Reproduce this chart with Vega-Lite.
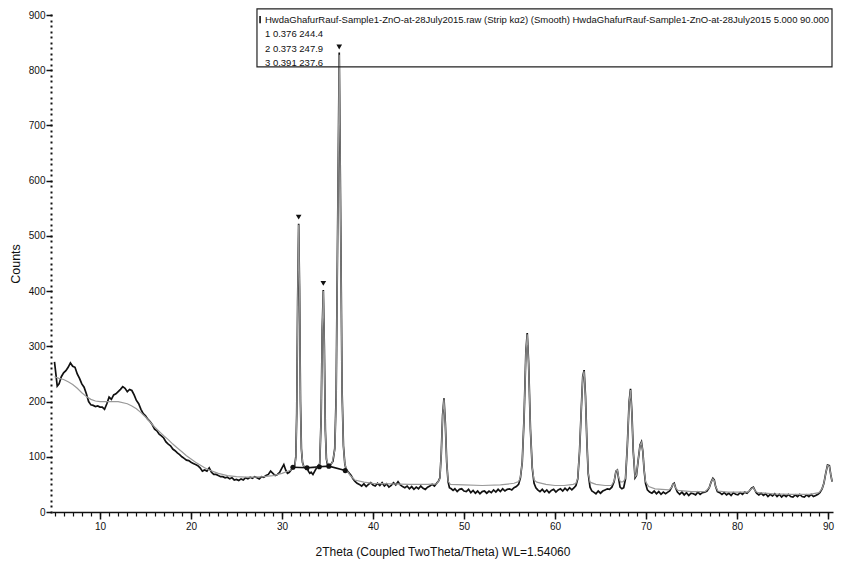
{
"$schema": "https://vega.github.io/schema/vega-lite/v6.json",
"width": 781, "height": 497,
"autosize": {"type": "none"},
"padding": {"left": 52, "top": 15, "right": 14, "bottom": 65},
"background": "white",
"config": {"view": {"stroke": null}, "font": "Liberation Sans", "axis": {"grid": false, "labelFont": "Liberation Sans", "titleFont": "Liberation Sans", "labelColor": "#111", "titleColor": "#111", "tickColor": "#111", "domainColor": "#111", "titleFontWeight": "normal"}},
"datasets": {
"measured": [
{"theta":5.0,"counts":272},{"theta":5.15,"counts":250},{"theta":5.3,"counts":228},{"theta":5.5,"counts":232},{"theta":5.75,"counts":245},{"theta":6.0,"counts":252},{"theta":6.25,"counts":256},{"theta":6.5,"counts":262},{"theta":6.75,"counts":270},{"theta":7.0,"counts":264},{"theta":7.25,"counts":262},{"theta":7.5,"counts":250},{"theta":7.75,"counts":242},{"theta":8.0,"counts":232},{"theta":8.25,"counts":226},{"theta":8.5,"counts":214},{"theta":8.75,"counts":200},{"theta":9.0,"counts":194},{"theta":9.25,"counts":193},{"theta":9.5,"counts":191},{"theta":9.75,"counts":192},{"theta":10.0,"counts":190},{"theta":10.25,"counts":190},{"theta":10.5,"counts":186},{"theta":10.75,"counts":196},{"theta":11.0,"counts":208},{"theta":11.25,"counts":204},{"theta":11.5,"counts":212},{"theta":11.75,"counts":214},{"theta":12.0,"counts":218},{"theta":12.25,"counts":222},{"theta":12.5,"counts":227},{"theta":12.75,"counts":224},{"theta":13.0,"counts":218},{"theta":13.25,"counts":222},{"theta":13.5,"counts":220},{"theta":13.75,"counts":212},{"theta":14.0,"counts":202},{"theta":14.25,"counts":196},{"theta":14.5,"counts":186},{"theta":14.75,"counts":178},{"theta":15.0,"counts":174},{"theta":15.25,"counts":168},{"theta":15.5,"counts":164},{"theta":15.75,"counts":158},{"theta":16.0,"counts":150},{"theta":16.25,"counts":147},{"theta":16.5,"counts":141},{"theta":16.75,"counts":138},{"theta":17.0,"counts":134},{"theta":17.25,"counts":127},{"theta":17.5,"counts":123},{"theta":17.75,"counts":120},{"theta":18.0,"counts":114},{"theta":18.25,"counts":111},{"theta":18.5,"counts":107},{"theta":18.75,"counts":104},{"theta":19.0,"counts":100},{"theta":19.25,"counts":97},{"theta":19.5,"counts":94},{"theta":19.75,"counts":93},{"theta":20.0,"counts":90},{"theta":20.25,"counts":88},{"theta":20.5,"counts":86},{"theta":20.75,"counts":84},{"theta":21.0,"counts":80},{"theta":21.25,"counts":74},{"theta":21.5,"counts":76},{"theta":21.75,"counts":74},{"theta":22.0,"counts":80},{"theta":22.25,"counts":72},{"theta":22.5,"counts":68},{"theta":22.75,"counts":68},{"theta":23.0,"counts":66},{"theta":23.25,"counts":64},{"theta":23.5,"counts":64},{"theta":23.75,"counts":62},{"theta":24.0,"counts":63},{"theta":24.25,"counts":60},{"theta":24.5,"counts":62},{"theta":24.75,"counts":58},{"theta":25.0,"counts":59},{"theta":25.25,"counts":57},{"theta":25.5,"counts":60},{"theta":25.75,"counts":58},{"theta":26.0,"counts":62},{"theta":26.25,"counts":60},{"theta":26.5,"counts":63},{"theta":26.75,"counts":61},{"theta":27.0,"counts":64},{"theta":27.25,"counts":62},{"theta":27.5,"counts":60},{"theta":27.75,"counts":64},{"theta":28.0,"counts":63},{"theta":28.25,"counts":66},{"theta":28.5,"counts":68},{"theta":28.75,"counts":74},{"theta":29.0,"counts":70},{"theta":29.25,"counts":66},{"theta":29.5,"counts":68},{"theta":29.75,"counts":72},{"theta":30.0,"counts":80},{"theta":30.2,"counts":86},{"theta":30.4,"counts":76},{"theta":30.6,"counts":70},{"theta":30.8,"counts":72},{"theta":31.0,"counts":76},{"theta":31.2,"counts":80},{"theta":31.4,"counts":84},{"theta":31.52,"counts":100},{"theta":31.62,"counts":180},{"theta":31.72,"counts":380},{"theta":31.83,"counts":522},{"theta":31.93,"counts":400},{"theta":32.03,"counts":200},{"theta":32.13,"counts":115},{"theta":32.25,"counts":90},{"theta":32.4,"counts":82},{"theta":32.6,"counts":79},{"theta":32.75,"counts":80},{"theta":32.9,"counts":74},{"theta":33.05,"counts":70},{"theta":33.2,"counts":72},{"theta":33.4,"counts":68},{"theta":33.6,"counts":74},{"theta":33.8,"counts":80},{"theta":34.0,"counts":82},{"theta":34.15,"counts":88},{"theta":34.3,"counts":170},{"theta":34.42,"counts":330},{"theta":34.54,"counts":402},{"theta":34.65,"counts":300},{"theta":34.76,"counts":150},{"theta":34.88,"counts":96},{"theta":35.0,"counts":86},{"theta":35.15,"counts":84},{"theta":35.3,"counts":86},{"theta":35.45,"counts":88},{"theta":35.6,"counts":92},{"theta":35.8,"counts":115},{"theta":35.95,"counts":210},{"theta":36.12,"counts":520},{"theta":36.29,"counts":832},{"theta":36.45,"counts":520},{"theta":36.6,"counts":220},{"theta":36.75,"counts":120},{"theta":36.9,"counts":88},{"theta":37.05,"counts":76},{"theta":37.2,"counts":74},{"theta":37.4,"counts":70},{"theta":37.6,"counts":66},{"theta":37.8,"counts":60},{"theta":38.0,"counts":56},{"theta":38.25,"counts":52},{"theta":38.5,"counts":50},{"theta":38.75,"counts":47},{"theta":39.0,"counts":51},{"theta":39.25,"counts":46},{"theta":39.5,"counts":50},{"theta":39.75,"counts":53},{"theta":40.0,"counts":49},{"theta":40.25,"counts":47},{"theta":40.5,"counts":52},{"theta":40.75,"counts":48},{"theta":41.0,"counts":53},{"theta":41.25,"counts":47},{"theta":41.5,"counts":51},{"theta":41.75,"counts":45},{"theta":42.0,"counts":48},{"theta":42.25,"counts":53},{"theta":42.5,"counts":49},{"theta":42.75,"counts":55},{"theta":43.0,"counts":49},{"theta":43.25,"counts":46},{"theta":43.5,"counts":44},{"theta":43.75,"counts":47},{"theta":44.0,"counts":42},{"theta":44.25,"counts":46},{"theta":44.5,"counts":41},{"theta":44.75,"counts":45},{"theta":45.0,"counts":42},{"theta":45.25,"counts":47},{"theta":45.5,"counts":43},{"theta":45.75,"counts":41},{"theta":46.0,"counts":45},{"theta":46.25,"counts":47},{"theta":46.5,"counts":50},{"theta":46.75,"counts":47},{"theta":47.0,"counts":52},{"theta":47.2,"counts":56},{"theta":47.35,"counts":62},{"theta":47.5,"counts":105},{"theta":47.65,"counts":175},{"theta":47.8,"counts":206},{"theta":47.95,"counts":160},{"theta":48.1,"counts":90},{"theta":48.25,"counts":55},{"theta":48.4,"counts":44},{"theta":48.6,"counts":42},{"theta":48.8,"counts":39},{"theta":49.0,"counts":42},{"theta":49.25,"counts":37},{"theta":49.5,"counts":41},{"theta":49.75,"counts":42},{"theta":50.0,"counts":38},{"theta":50.25,"counts":37},{"theta":50.5,"counts":41},{"theta":50.75,"counts":35},{"theta":51.0,"counts":39},{"theta":51.25,"counts":34},{"theta":51.5,"counts":38},{"theta":51.75,"counts":33},{"theta":52.0,"counts":37},{"theta":52.25,"counts":38},{"theta":52.5,"counts":34},{"theta":52.75,"counts":38},{"theta":53.0,"counts":35},{"theta":53.25,"counts":40},{"theta":53.5,"counts":36},{"theta":53.75,"counts":41},{"theta":54.0,"counts":37},{"theta":54.25,"counts":42},{"theta":54.5,"counts":38},{"theta":54.75,"counts":41},{"theta":55.0,"counts":42},{"theta":55.25,"counts":40},{"theta":55.5,"counts":44},{"theta":55.75,"counts":46},{"theta":56.0,"counts":50},{"theta":56.2,"counts":62},{"theta":56.4,"counts":90},{"theta":56.6,"counts":170},{"theta":56.8,"counts":290},{"theta":56.95,"counts":324},{"theta":57.1,"counts":270},{"theta":57.3,"counts":150},{"theta":57.5,"counts":80},{"theta":57.7,"counts":52},{"theta":57.9,"counts":44},{"theta":58.1,"counts":40},{"theta":58.35,"counts":37},{"theta":58.6,"counts":41},{"theta":58.85,"counts":36},{"theta":59.1,"counts":40},{"theta":59.35,"counts":35},{"theta":59.6,"counts":39},{"theta":59.85,"counts":41},{"theta":60.1,"counts":36},{"theta":60.35,"counts":40},{"theta":60.6,"counts":42},{"theta":60.85,"counts":38},{"theta":61.1,"counts":43},{"theta":61.35,"counts":39},{"theta":61.6,"counts":44},{"theta":61.85,"counts":40},{"theta":62.1,"counts":44},{"theta":62.3,"counts":48},{"theta":62.5,"counts":60},{"theta":62.7,"counts":110},{"theta":62.9,"counts":190},{"theta":63.05,"counts":245},{"theta":63.2,"counts":257},{"theta":63.35,"counts":210},{"theta":63.5,"counts":130},{"theta":63.65,"counts":70},{"theta":63.85,"counts":45},{"theta":64.05,"counts":38},{"theta":64.25,"counts":36},{"theta":64.5,"counts":33},{"theta":64.75,"counts":38},{"theta":65.0,"counts":34},{"theta":65.25,"counts":38},{"theta":65.5,"counts":40},{"theta":65.75,"counts":42},{"theta":66.0,"counts":41},{"theta":66.25,"counts":45},{"theta":66.5,"counts":55},{"theta":66.7,"counts":74},{"theta":66.85,"counts":76},{"theta":67.0,"counts":60},{"theta":67.15,"counts":45},{"theta":67.35,"counts":42},{"theta":67.55,"counts":44},{"theta":67.75,"counts":60},{"theta":67.95,"counts":120},{"theta":68.15,"counts":200},{"theta":68.3,"counts":223},{"theta":68.45,"counts":180},{"theta":68.6,"counts":110},{"theta":68.8,"counts":62},{"theta":68.95,"counts":66},{"theta":69.15,"counts":95},{"theta":69.35,"counts":122},{"theta":69.5,"counts":127},{"theta":69.65,"counts":110},{"theta":69.8,"counts":75},{"theta":69.95,"counts":52},{"theta":70.15,"counts":40},{"theta":70.4,"counts":36},{"theta":70.65,"counts":34},{"theta":70.9,"counts":38},{"theta":71.15,"counts":33},{"theta":71.4,"counts":37},{"theta":71.65,"counts":32},{"theta":71.9,"counts":36},{"theta":72.15,"counts":33},{"theta":72.4,"counts":36},{"theta":72.6,"counts":38},{"theta":72.8,"counts":44},{"theta":72.95,"counts":50},{"theta":73.1,"counts":52},{"theta":73.25,"counts":44},{"theta":73.45,"counts":36},{"theta":73.7,"counts":32},{"theta":73.95,"counts":36},{"theta":74.2,"counts":31},{"theta":74.45,"counts":35},{"theta":74.7,"counts":30},{"theta":74.95,"counts":34},{"theta":75.2,"counts":33},{"theta":75.45,"counts":31},{"theta":75.7,"counts":36},{"theta":75.95,"counts":32},{"theta":76.2,"counts":35},{"theta":76.45,"counts":36},{"theta":76.7,"counts":38},{"theta":76.95,"counts":44},{"theta":77.15,"counts":54},{"theta":77.35,"counts":61},{"theta":77.5,"counts":58},{"theta":77.65,"counts":46},{"theta":77.85,"counts":37},{"theta":78.1,"counts":35},{"theta":78.35,"counts":32},{"theta":78.6,"counts":35},{"theta":78.85,"counts":31},{"theta":79.1,"counts":34},{"theta":79.35,"counts":30},{"theta":79.6,"counts":35},{"theta":79.85,"counts":32},{"theta":80.1,"counts":31},{"theta":80.35,"counts":35},{"theta":80.6,"counts":32},{"theta":80.85,"counts":36},{"theta":81.1,"counts":34},{"theta":81.35,"counts":38},{"theta":81.6,"counts":43},{"theta":81.8,"counts":45},{"theta":81.95,"counts":40},{"theta":82.15,"counts":34},{"theta":82.4,"counts":31},{"theta":82.65,"counts":34},{"theta":82.9,"counts":30},{"theta":83.15,"counts":33},{"theta":83.4,"counts":28},{"theta":83.65,"counts":32},{"theta":83.9,"counts":29},{"theta":84.15,"counts":33},{"theta":84.4,"counts":28},{"theta":84.65,"counts":32},{"theta":84.9,"counts":27},{"theta":85.15,"counts":31},{"theta":85.4,"counts":28},{"theta":85.65,"counts":32},{"theta":85.9,"counts":28},{"theta":86.15,"counts":27},{"theta":86.4,"counts":31},{"theta":86.65,"counts":28},{"theta":86.9,"counts":32},{"theta":87.15,"counts":28},{"theta":87.4,"counts":27},{"theta":87.65,"counts":31},{"theta":87.9,"counts":28},{"theta":88.15,"counts":32},{"theta":88.4,"counts":28},{"theta":88.65,"counts":30},{"theta":88.9,"counts":32},{"theta":89.1,"counts":35},{"theta":89.35,"counts":42},{"theta":89.55,"counts":52},{"theta":89.75,"counts":70},{"theta":89.95,"counts":85},{"theta":90.15,"counts":84},{"theta":90.3,"counts":68},{"theta":90.45,"counts":55}
],
"smooth": [
{"theta":5.0,"counts":245},{"theta":5.5,"counts":242},{"theta":6.0,"counts":240},{"theta":6.5,"counts":236},{"theta":7.0,"counts":231},{"theta":7.5,"counts":224},{"theta":8.0,"counts":216},{"theta":8.5,"counts":209},{"theta":9.0,"counts":204},{"theta":9.5,"counts":201},{"theta":10.0,"counts":200},{"theta":11.0,"counts":200},{"theta":12.0,"counts":200},{"theta":13.0,"counts":196},{"theta":13.5,"counts":192},{"theta":14.0,"counts":187},{"theta":14.5,"counts":180},{"theta":15.0,"counts":172},{"theta":15.5,"counts":163},{"theta":16.0,"counts":154},{"theta":16.5,"counts":146},{"theta":17.0,"counts":138},{"theta":17.5,"counts":131},{"theta":18.0,"counts":123},{"theta":18.5,"counts":116},{"theta":19.0,"counts":109},{"theta":19.5,"counts":102},{"theta":20.0,"counts":96},{"theta":20.5,"counts":90},{"theta":21.0,"counts":85},{"theta":21.5,"counts":80},{"theta":22.0,"counts":76},{"theta":23.0,"counts":70},{"theta":24.0,"counts":66},{"theta":25.0,"counts":64},{"theta":26.0,"counts":63},{"theta":27.0,"counts":63},{"theta":28.0,"counts":64},{"theta":29.0,"counts":66},{"theta":30.0,"counts":70},{"theta":31.0,"counts":76},{"theta":31.4,"counts":80},{"theta":31.52,"counts":98},{"theta":31.62,"counts":175},{"theta":31.72,"counts":378},{"theta":31.83,"counts":520},{"theta":31.93,"counts":398},{"theta":32.03,"counts":198},{"theta":32.13,"counts":112},{"theta":32.3,"counts":86},{"theta":32.5,"counts":80},{"theta":33.0,"counts":80},{"theta":33.5,"counts":80},{"theta":34.0,"counts":82},{"theta":34.15,"counts":88},{"theta":34.3,"counts":170},{"theta":34.42,"counts":328},{"theta":34.54,"counts":400},{"theta":34.65,"counts":298},{"theta":34.76,"counts":148},{"theta":34.88,"counts":95},{"theta":35.1,"counts":86},{"theta":35.5,"counts":88},{"theta":35.8,"counts":112},{"theta":35.95,"counts":205},{"theta":36.12,"counts":515},{"theta":36.29,"counts":828},{"theta":36.45,"counts":515},{"theta":36.6,"counts":218},{"theta":36.75,"counts":118},{"theta":36.9,"counts":88},{"theta":37.1,"counts":76},{"theta":37.5,"counts":66},{"theta":38.0,"counts":58},{"theta":39.0,"counts":54},{"theta":40.0,"counts":52},{"theta":42.0,"counts":51},{"theta":44.0,"counts":50},{"theta":46.0,"counts":50},{"theta":47.0,"counts":51},{"theta":47.35,"counts":60},{"theta":47.5,"counts":105},{"theta":47.65,"counts":174},{"theta":47.8,"counts":204},{"theta":47.95,"counts":158},{"theta":48.1,"counts":90},{"theta":48.25,"counts":56},{"theta":48.5,"counts":50},{"theta":50.0,"counts":49},{"theta":52.0,"counts":48},{"theta":54.0,"counts":49},{"theta":55.5,"counts":52},{"theta":56.0,"counts":55},{"theta":56.2,"counts":63},{"theta":56.4,"counts":90},{"theta":56.6,"counts":170},{"theta":56.8,"counts":288},{"theta":56.95,"counts":322},{"theta":57.1,"counts":268},{"theta":57.3,"counts":150},{"theta":57.5,"counts":80},{"theta":57.7,"counts":58},{"theta":58.0,"counts":54},{"theta":59.0,"counts":50},{"theta":60.0,"counts":48},{"theta":61.0,"counts":48},{"theta":62.0,"counts":50},{"theta":62.3,"counts":52},{"theta":62.5,"counts":61},{"theta":62.7,"counts":110},{"theta":62.9,"counts":190},{"theta":63.05,"counts":244},{"theta":63.2,"counts":255},{"theta":63.35,"counts":208},{"theta":63.5,"counts":130},{"theta":63.65,"counts":70},{"theta":63.85,"counts":54},{"theta":64.5,"counts":50},{"theta":65.5,"counts":48},{"theta":66.2,"counts":48},{"theta":66.5,"counts":56},{"theta":66.7,"counts":74},{"theta":66.85,"counts":76},{"theta":67.0,"counts":62},{"theta":67.2,"counts":54},{"theta":67.5,"counts":55},{"theta":67.75,"counts":61},{"theta":67.95,"counts":120},{"theta":68.15,"counts":198},{"theta":68.3,"counts":221},{"theta":68.45,"counts":178},{"theta":68.6,"counts":110},{"theta":68.8,"counts":64},{"theta":68.95,"counts":67},{"theta":69.15,"counts":95},{"theta":69.35,"counts":121},{"theta":69.5,"counts":126},{"theta":69.65,"counts":110},{"theta":69.8,"counts":75},{"theta":69.95,"counts":55},{"theta":70.3,"counts":46},{"theta":71.0,"counts":42},{"theta":72.5,"counts":40},{"theta":72.8,"counts":44},{"theta":72.95,"counts":50},{"theta":73.1,"counts":51},{"theta":73.25,"counts":44},{"theta":73.5,"counts":39},{"theta":75.0,"counts":37},{"theta":76.5,"counts":37},{"theta":76.95,"counts":44},{"theta":77.15,"counts":54},{"theta":77.35,"counts":60},{"theta":77.5,"counts":57},{"theta":77.65,"counts":46},{"theta":77.9,"counts":38},{"theta":79.0,"counts":36},{"theta":81.2,"counts":36},{"theta":81.6,"counts":42},{"theta":81.8,"counts":44},{"theta":82.0,"counts":38},{"theta":82.3,"counts":35},{"theta":84.0,"counts":33},{"theta":86.0,"counts":32},{"theta":88.0,"counts":32},{"theta":89.0,"counts":35},{"theta":89.35,"counts":42},{"theta":89.55,"counts":52},{"theta":89.75,"counts":70},{"theta":89.95,"counts":84},{"theta":90.15,"counts":83},{"theta":90.3,"counts":68},{"theta":90.45,"counts":55}
],
"peaks": [{"theta":31.83,"counts":534},{"theta":34.54,"counts":414},{"theta":36.29,"counts":842}],
"bases": [{"theta":31.2,"counts":81},{"theta":32.75,"counts":80},{"theta":34.1,"counts":82},{"theta":35.15,"counts":83},{"theta":36.95,"counts":75}]
},
"resolve": {"axis": {"x": "independent", "y": "independent"}},
"layer": [
{"data": {"name": "measured"}, "mark": {"type": "line", "color": "#111", "strokeWidth": 1.7},
 "encoding": {
  "x": {"field": "theta", "type": "quantitative", "scale": {"domain": [4.725, 90.55], "nice": false, "zero": false},
   "axis": {"orient": "bottom", "values": [5,6,7,8,9,10,11,12,13,14,15,16,17,18,19,20,21,22,23,24,25,26,27,28,29,30,31,32,33,34,35,36,37,38,39,40,41,42,43,44,45,46,47,48,49,50,51,52,53,54,55,56,57,58,59,60,61,62,63,64,65,66,67,68,69,70,71,72,73,74,75,76,77,78,79,80,81,82,83,84,85,86,87,88,89,90], "labels": false, "tickSize": 4, "tickWidth": 1.2, "domain": true, "domainWidth": 1.5, "title": null}},
  "y": {"field": "counts", "type": "quantitative", "scale": {"domain": [0, 900], "nice": false, "zero": true},
   "axis": {"orient": "left", "values": [0,10,20,30,40,50,60,70,80,90,100,110,120,130,140,150,160,170,180,190,200,210,220,230,240,250,260,270,280,290,300,310,320,330,340,350,360,370,380,390,400,410,420,430,440,450,460,470,480,490,500,510,520,530,540,550,560,570,580,590,600,610,620,630,640,650,660,670,680,690,700,710,720,730,740,750,760,770,780,790,800,810,820,830,840,850,860,870,880,890,900], "labels": false, "tickSize": 2, "tickWidth": 2, "domain": false, "title": null}}
 }},
{"data": {"name": "smooth"}, "mark": {"type": "line", "color": "#9a9a9a", "strokeWidth": 1.2},
 "encoding": {
  "x": {"field": "theta", "type": "quantitative", "scale": {"domain": [4.725, 90.55], "nice": false, "zero": false},
   "axis": {"orient": "bottom", "values": [10,20,30,40,50,60,70,80,90], "tickSize": 7, "tickWidth": 1.5, "domain": false, "labelFontSize": 10, "labelPadding": 2, "title": "2Theta (Coupled TwoTheta/Theta) WL=1.54060", "titleFontSize": 12, "titlePadding": 15}},
  "y": {"field": "counts", "type": "quantitative", "scale": {"domain": [0, 900], "nice": false, "zero": true},
   "axis": {"orient": "left", "values": [0,100,200,300,400,500,600,700,800,900], "tickSize": 6, "tickWidth": 1.5, "domain": false, "labelFontSize": 10, "labelPadding": 1, "title": "Counts", "titleFontSize": 12.5, "titlePadding": 6}}
 }},
{"data": {"name": "bases"}, "mark": {"type": "line", "color": "#111", "strokeWidth": 1.6},
 "encoding": {"x": {"field": "theta", "type": "quantitative", "axis": null}, "y": {"field": "counts", "type": "quantitative", "axis": null}}},
{"data": {"name": "bases"}, "mark": {"type": "point", "shape": "circle", "filled": true, "color": "#111", "size": 26, "opacity": 1},
 "encoding": {"x": {"field": "theta", "type": "quantitative", "axis": null}, "y": {"field": "counts", "type": "quantitative", "axis": null}}},
{"data": {"name": "peaks"}, "mark": {"type": "point", "shape": "triangle-down", "filled": true, "color": "#111", "size": 32, "opacity": 1},
 "encoding": {"x": {"field": "theta", "type": "quantitative", "axis": null}, "y": {"field": "counts", "type": "quantitative", "axis": null}}},
{"data": {"values": [{}]}, "mark": {"type": "rect", "fillOpacity": 0, "stroke": "#222", "strokeWidth": 1.2},
 "encoding": {"x": {"datum": 27.25, "type": "quantitative", "axis": null}, "x2": {"datum": 90.44}, "y": {"datum": 911, "type": "quantitative", "axis": null}, "y2": {"datum": 806}}},
{"data": {"values": [{}]}, "mark": {"type": "rect", "fill": "#111"},
 "encoding": {"x": {"datum": 27.5, "type": "quantitative", "axis": null}, "x2": {"datum": 27.68}, "y": {"datum": 898, "type": "quantitative", "axis": null}, "y2": {"datum": 885}}},
{"data": {"values": [{}]}, "mark": {"type": "text", "align": "left", "baseline": "middle", "fontSize": 9.5, "lineHeight": 14.4, "color": "#111",
  "text": ["HwdaGhafurRauf-Sample1-ZnO-at-28July2015.raw (Strip kα2) (Smooth) HwdaGhafurRauf-Sample1-ZnO-at-28July2015 5.000 90.000", "1 0.376 244.4", "2 0.373 247.9", "3 0.391 237.6"]},
 "encoding": {"x": {"datum": 28.13, "type": "quantitative", "axis": null}, "y": {"datum": 891, "type": "quantitative", "axis": null}}}
]
}
